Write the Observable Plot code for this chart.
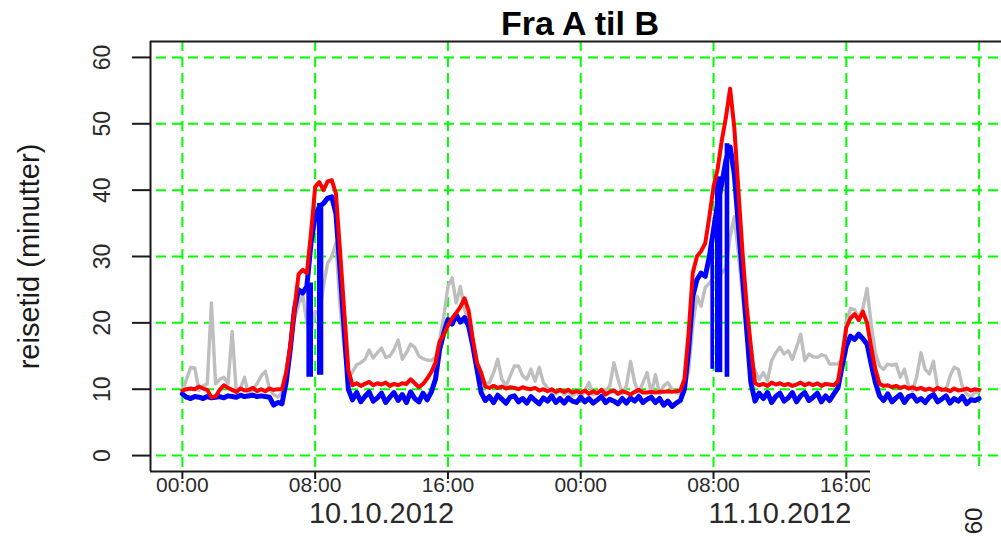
<!DOCTYPE html>
<html>
<head>
<meta charset="utf-8">
<script src="https://cdn.jsdelivr.net/npm/d3@7"></script>
<script src="https://cdn.jsdelivr.net/npm/@observablehq/plot@0.6"></script>
<style>
  html, body { margin: 0; padding: 0; background: #fff; overflow: hidden; width: 1001px; height: 540px; }
  #wrap { position: relative; width: 1001px; height: 540px; font-family: "Liberation Sans", Arial, sans-serif; }
  #title { position: absolute; left: 0; top: 0; width: 1160px; height: 40px; line-height: 46px; text-align: center;
           font-weight: bold; font-size: 34px; color: #000; white-space: nowrap; }
  #chart { position: absolute; left: 0; top: 40px; }
  #crop { position: absolute; left: 870px; top: 466px; width: 131px; height: 74px; background: #fff; }
  #crop span { position: absolute; left: 103.5px; top: 54.5px; transform: translate(-50%, -50%) rotate(-90deg);
               font-size: 24px; line-height: 1; color: #222; }
</style>
</head>
<body>
<div id="wrap">
  <div id="title">Fra A til B</div>
  <div id="chart"></div>
  <div id="crop"><span>60</span></div>
</div>
<script>
// ---- data, quarter-hour samples from 10.10.2012 00:00 to 12.10.2012 00:00 ----
const hours = d3.range(0, 48.001, 0.25);

const red = [
  9.8,10.0,10.1,10.0,  10.4,10.1,9.9,8.8,  8.9,9.9,10.6,10.2,  9.9,9.6,10.1,9.8,
  9.9,10.2,9.7,10.0,   9.7,10.1,9.9,10.0,  10.0,12.5,16.5,22.0, 27.3,28.0,27.5,33.5,
  40.5,41.2,40.0,41.3, 41.5,39.5,30.8,21.8, 12.9,10.6,10.9,10.5, 10.8,11.1,10.6,10.9,
  10.7,11.0,10.5,10.8, 10.6,10.9,10.8,11.5, 10.9,10.3,10.8,11.6, 12.6,14.0,17.2,18.2,
  19.6,20.7,21.5,22.4, 23.7,21.8,17.5,14.0, 12.5,10.4,10.2,10.5, 10.2,10.4,10.1,10.3,
  10.2,10.0,10.3,10.1, 10.0,10.2,9.8,10.0,  9.7,10.0,9.6,9.9,    9.6,9.9,9.5,9.7,
  9.5,9.8,9.3,9.7,     9.4,9.9,9.2,9.6,     9.8,9.3,9.7,9.5,     9.2,9.6,9.9,9.5,
  9.5,9.6,9.5,9.6,     9.6,9.7,9.6,9.7,     9.8,11.5,18.5,27.5,  30.0,30.8,32.0,36.0,
  40.5,43.2,47.5,51.0, 55.3,49.5,40.0,30.5, 22.5,16.5,10.9,10.6, 10.8,10.5,11.0,10.7,
  10.9,10.6,10.8,10.5, 10.7,11.0,10.6,10.9, 10.6,10.9,10.5,10.8, 10.7,10.6,11.2,15.0,
  19.3,20.7,21.3,20.4, 21.7,20.0,16.3,13.0, 10.8,10.5,10.6,10.3, 10.5,10.2,10.4,10.1,
  10.3,10.0,10.2,9.9,  10.1,9.8,10.2,9.9,   10.0,9.7,10.1,9.8,   9.9,10.1,9.8,10.0,
  9.9
];

const blue = [
  9.3,8.8,8.6,8.9,     8.8,8.6,8.9,8.7,     8.8,8.9,8.7,9.0,     8.9,8.8,9.1,8.9,
  9.0,9.1,8.9,9.0,     8.9,8.8,7.6,8.0,     7.8,11.0,16.0,22.0,  25.0,24.5,25.5,32.0,
  36.0,37.5,38.0,38.8, 39.0,36.5,28.0,19.0, 10.0,8.4,9.5,8.1,    8.9,9.6,8.2,8.7,
  9.4,8.0,8.8,9.5,     8.3,9.2,8.0,9.6,     8.6,8.1,9.4,8.4,     9.6,11.5,16.0,18.5,
  20.5,19.8,21.2,20.1, 20.8,19.5,16.5,13.0, 9.5,8.3,8.9,8.0,     9.1,8.5,7.9,8.8,
  9.0,8.1,8.6,7.9,     8.9,8.3,7.8,8.7,     8.2,9.0,8.0,8.6,     7.9,8.7,8.2,8.0,
  8.8,8.1,8.6,7.9,     8.4,8.9,8.0,8.5,     8.2,7.8,8.6,7.9,     8.7,8.2,8.9,8.0,
  8.5,8.8,8.0,8.6,     7.6,8.2,7.4,7.9,     8.3,10.0,16.0,24.0,  26.5,27.5,27.0,30.0,
  34.0,38.0,41.0,44.5, 46.5,42.5,34.7,26.9, 19.0,11.0,8.2,9.4,   8.6,9.5,8.0,8.9,
  9.4,8.2,8.7,9.5,     8.1,9.0,9.5,8.3,     8.8,9.4,8.1,9.0,     8.3,9.3,10.2,13.5,
  16.5,18.0,17.5,18.3, 17.6,16.8,13.8,11.0, 9.0,8.3,9.3,8.1,     8.7,9.2,8.0,8.9,
  9.1,8.2,8.6,8.0,     8.8,9.2,8.1,8.5,     9.0,7.9,8.6,8.2,     8.9,7.8,8.4,8.3,
  8.6
];

const gray = [
  9.8,11.5,13.3,13.2,  9.8,10.5,10.8,23.0,  10.8,11.5,11.8,10.8, 18.7,9.5,10.2,11.8,
  8.8,10.0,10.8,12.0,  12.7,10.0,9.2,8.8,   9.5,12.5,16.8,20.5,  22.8,24.2,20.0,18.8,
  21.7,21.5,25.5,29.0, 30.0,32.0,22.5,16.0, 11.8,12.6,13.7,14.0, 14.5,15.9,14.7,15.5,
  16.2,14.8,15.0,16.0, 17.4,14.5,15.5,16.8, 16.3,15.0,14.6,14.4, 14.3,14.8,17.5,21.0,
  25.5,26.8,23.0,25.5, 22.0,20.0,16.5,13.5, 11.5,10.8,11.0,12.5, 14.5,11.5,10.5,12.0,
  13.5,13.5,12.0,11.5, 13.0,11.2,13.3,11.0, 10.2,9.5,9.3,9.8,    9.2,9.6,9.0,9.5,
  8.8,9.8,11.0,9.2,    9.5,10.0,9.8,10.5,   14.0,11.5,9.3,10.5,  14.2,11.0,9.5,11.0,
  12.5,9.3,12.2,9.3,   10.5,11.0,10.0,9.5,  9.3,10.0,12.8,19.5,  24.0,22.5,25.3,26.0,
  26.8,27.3,27.5,28.3, 33.0,36.0,30.4,24.0, 18.0,14.0,12.8,11.5, 12.5,11.3,14.3,15.5,
  16.3,15.3,15.8,14.5, 16.3,18.3,14.3,15.3, 14.9,14.8,15.2,15.0, 13.8,13.8,13.8,14.5,
  19.8,22.2,22.0,20.8, 22.2,25.2,19.8,15.5, 13.5,13.0,13.8,13.6, 13.8,11.8,13.0,10.5,
  9.8,12.0,15.5,13.0,  12.3,14.2,10.2,10.0, 9.8,12.0,13.3,13.0,  10.3,9.3,8.8,9.5,
  9.6
];

// short blue drop-outs during the morning peaks (start hour, end hour, low, high)
const blueDropStart = [7.50, 8.14, 31.84, 32.12, 32.70];
const blueDropEnd   = [7.90, 8.52, 32.06, 32.56, 32.98];
const blueDropLow   = [11.8, 12.1, 13.0, 12.5, 11.8];
const blueDropHigh  = [26.0, 38.0, 33.0, 42.0, 47.0];

const yTicks = [0, 10, 20, 30, 40, 50, 60];
const gridHours = [0, 8, 16, 24, 32, 40, 48];
const xTickHours = [0, 8, 16, 24, 32, 40];
const xTickLabels = ["00:00", "08:00", "16:00", "00:00", "08:00", "16:00"];
const dateHours = [12, 36];
const dateLabels = ["10.10.2012", "11.10.2012"];
const yLabel = "reisetid (minutter)";

const xDomain = [-1.92, 49.35];
const yDomain = [-2.4, 62.4];

// ---- build ----
const rows = vals => vals.map((v, i) => ({t: hours[i], v}));
const dropRows = blueDropStart.map((s, i) => ({x1: s, x2: blueDropEnd[i], y1: blueDropLow[i], y2: blueDropHigh[i]}));
const xTickRows = xTickHours.map((t, i) => ({t, label: xTickLabels[i]}));
const dateRows = dateHours.map((t, i) => ({t, label: dateLabels[i]}));

const gridStyle = {stroke: "#00ff00", strokeWidth: 2, strokeDasharray: "10,6"};
const ink = "#1a1a1a";

const marks = [
  Plot.ruleX(gridHours, gridStyle),
  Plot.ruleY(yTicks, {...gridStyle, strokeDashoffset: 10}),
  Plot.line(rows(gray), {x: "t", y: "v", stroke: "#bebebe", strokeWidth: 3.4}),
  Plot.line(rows(blue), {x: "t", y: "v", stroke: "#0000ff", strokeWidth: 5}),
  Plot.rect(dropRows, {x1: "x1", x2: "x2", y1: "y1", y2: "y2", fill: "#0000ff"}),
  Plot.line(rows(red), {x: "t", y: "v", stroke: "#ff0000", strokeWidth: 4}),
  Plot.ruleX([xDomain[0]], {stroke: ink, strokeWidth: 2}),
  Plot.ruleY([yDomain[0]], {stroke: ink, strokeWidth: 2}),
  Plot.ruleY([yDomain[1]], {stroke: ink, strokeWidth: 2}),
  Plot.text(yTicks, {y: d => d, text: d => String(d), frameAnchor: "left", textAnchor: "middle", dx: -48, rotate: -90, fontSize: 23, fill: "#2a2a2a"}),
  Plot.text(xTickRows, {x: "t", text: "label", frameAnchor: "bottom", textAnchor: "middle", dy: 20, fontSize: 21, fill: "#2a2a2a"}),
  Plot.text(dateRows, {x: "t", text: "label", frameAnchor: "bottom", textAnchor: "middle", dy: 51.5, fontSize: 29, fill: "#2a2a2a"}),
  Plot.text([yLabel], {frameAnchor: "left", textAnchor: "middle", dx: -121, rotate: -90, fontSize: 29, fill: ink})
];
if (Plot.axisY) marks.push(Plot.axisY(yTicks, {anchor: "left", tickSize: 18, tickFormat: () => "", stroke: ink, strokeWidth: 2}));
if (Plot.axisX) marks.push(Plot.axisX(gridHours, {anchor: "bottom", tickSize: 8, tickFormat: () => "", stroke: ink, strokeWidth: 2}));

const chart = Plot.plot({
  width: 1001,
  height: 500,
  marginLeft: 150,
  marginRight: 0,
  marginTop: 1,
  marginBottom: 69,
  style: {background: "transparent", fontFamily: "'Liberation Sans', Arial, sans-serif", overflow: "visible"},
  x: {domain: xDomain, axis: null},
  y: {domain: yDomain, axis: null},
  marks
});
document.getElementById("chart").appendChild(chart);
</script>
</body>
</html>
